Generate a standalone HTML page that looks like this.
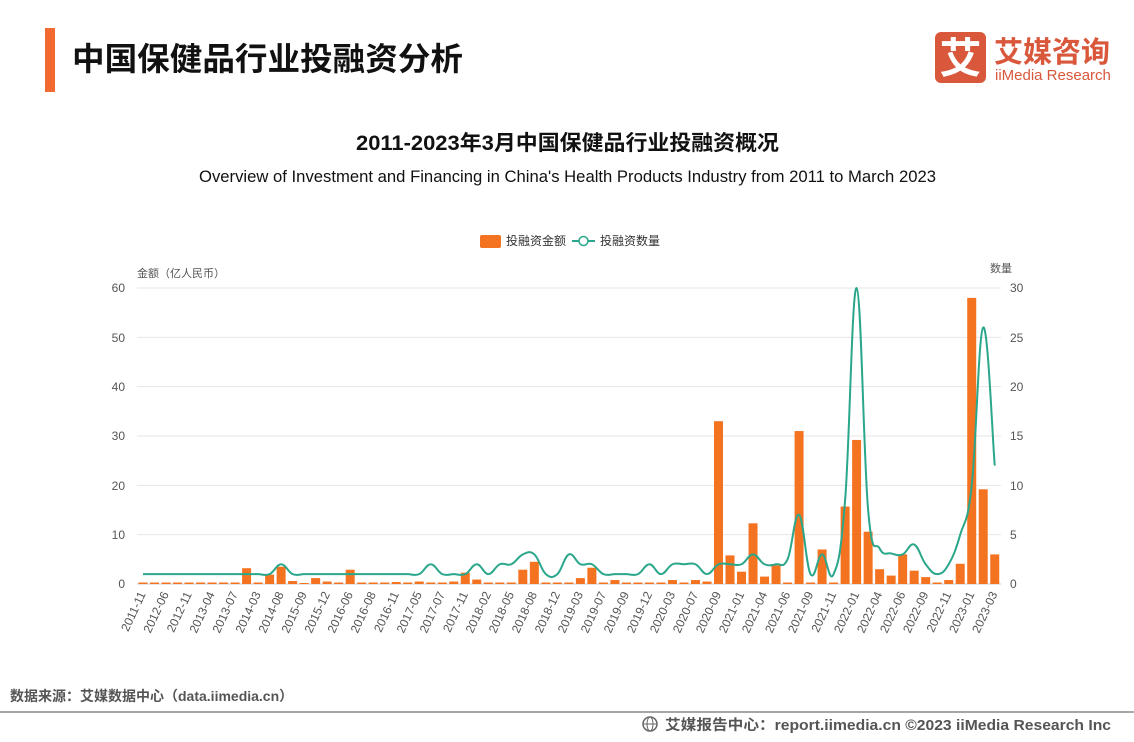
<!DOCTYPE html>
<html><head><meta charset="utf-8"><style>
body{margin:0;width:1134px;height:737px;background:#fff;overflow:hidden;font-family:"Liberation Sans","Noto Sans CJK SC",sans-serif;}
</style></head><body>
<svg id="s" width="1134" height="737" xmlns="http://www.w3.org/2000/svg" font-family="Liberation Sans, Noto Sans CJK SC, sans-serif">
<rect x="45" y="28" width="10" height="64" fill="#f26a32"/>
<text x="72" y="70" font-size="32" font-weight="bold" fill="#111" textLength="391" lengthAdjust="spacingAndGlyphs">中国保健品行业投融资分析</text>
<rect x="935" y="32" width="51" height="51" rx="6" fill="#d9573b"/>
<text x="960.5" y="73" font-size="42" font-weight="bold" fill="#fff" text-anchor="middle">艾</text>
<text x="994" y="62" font-size="29" font-weight="bold" fill="#d9573b">艾媒咨询</text>
<text x="995" y="80" font-size="15" fill="#d9573b">iiMedia Research</text>
<text x="356" y="150" font-size="21" font-weight="bold" fill="#111" textLength="423" lengthAdjust="spacingAndGlyphs">2011-2023年3月中国保健品行业投融资概况</text>
<text x="199" y="182" font-size="16.5" fill="#111" textLength="737" lengthAdjust="spacingAndGlyphs">Overview of Investment and Financing in China's Health Products Industry from 2011 to March 2023</text>
<rect x="480" y="235" width="21" height="13" rx="2" fill="#f47320"/>
<text x="506" y="245" font-size="12" fill="#333">投融资金额</text>
<line x1="572" y1="241" x2="595" y2="241" stroke="#2aa78a" stroke-width="2"/>
<circle cx="583.5" cy="241" r="4.5" fill="#fff" stroke="#2aa78a" stroke-width="1.5"/>
<text x="600" y="245" font-size="12" fill="#333">投融资数量</text>
<text x="137" y="277" font-size="11" fill="#555">金额（亿人民币）</text>
<text x="990" y="272" font-size="11" fill="#555">数量</text>
<g id="grid" stroke="#e6e6e6" stroke-width="1"></g>
<g font-size="12" fill="#555" text-anchor="end">
<text x="125" y="588">0</text><text x="125" y="539">10</text><text x="125" y="490">20</text><text x="125" y="440">30</text><text x="125" y="391">40</text><text x="125" y="342">50</text><text x="125" y="292">60</text>
</g>
<g font-size="12" fill="#555">
<text x="1010" y="588">0</text><text x="1010" y="539">5</text><text x="1010" y="490">10</text><text x="1010" y="440">15</text><text x="1010" y="391">20</text><text x="1010" y="342">25</text><text x="1010" y="292">30</text>
</g>
<g id="bars" fill="#f47320"></g>
<path id="ln" fill="none" stroke="#2aa78a" stroke-width="2"/>
<g id="xl" font-size="12" fill="#555" text-anchor="end">
<text>2011-11</text><text>2012-06</text><text>2012-11</text><text>2013-04</text><text>2013-07</text><text>2014-03</text><text>2014-08</text><text>2015-09</text><text>2015-12</text><text>2016-06</text><text>2016-08</text><text>2016-11</text><text>2017-05</text><text>2017-07</text><text>2017-11</text><text>2018-02</text><text>2018-05</text><text>2018-08</text><text>2018-12</text><text>2019-03</text><text>2019-07</text><text>2019-09</text><text>2019-12</text><text>2020-03</text><text>2020-07</text><text>2020-09</text><text>2021-01</text><text>2021-04</text><text>2021-06</text><text>2021-09</text><text>2021-11</text><text>2022-01</text><text>2022-04</text><text>2022-06</text><text>2022-09</text><text>2022-11</text><text>2023-01</text><text>2023-03</text>
</g>
<text x="10" y="701" font-size="14" font-weight="bold" fill="#555">数据来源：艾媒数据中心（data.iimedia.cn）</text>
<line x1="0" y1="712" x2="1134" y2="712" stroke="#888" stroke-width="1.5"/>
<circle cx="650" cy="724" r="7" fill="none" stroke="#666" stroke-width="1.5"/>
<ellipse cx="650" cy="724" rx="3" ry="7" fill="none" stroke="#666" stroke-width="1"/>
<line x1="643" y1="724" x2="657" y2="724" stroke="#666" stroke-width="1"/>
<text x="665" y="730" font-size="14.5" font-weight="bold" fill="#555" textLength="446" lengthAdjust="spacingAndGlyphs">艾媒报告中心：report.iimedia.cn ©2023  iiMedia Research  Inc</text>
</svg>
<script>
var v=[0.3,0.3,0.3,0.3,0.3,0.3,0.3,0.3,0.3,3.2,0.3,1.9,3.5,0.6,0.2,1.2,0.5,0.3,2.9,0.3,0.3,0.3,0.4,0.3,0.5,0.3,0.3,0.5,2.3,0.9,0.3,0.3,0.3,2.9,4.5,0.3,0.3,0.3,1.2,3.3,0.3,0.8,0.3,0.3,0.3,0.3,0.8,0.3,0.8,0.5,33,5.8,2.5,12.3,1.5,3.8,0.3,31,0.3,7,0.3,15.7,29.2,10.6,3,1.7,6,2.7,1.4,0.3,0.8,4.1,58,19.2,6];
var c=[1,1,1,1,1,1,1,1,1,1,1,1,2,1,1,1,1,1,1,1,1,1,1,1,1,2,1,1,1,2,1,2,2,3,3,1,1,3,2,2,1,1,1,1,2,1,2,2,2,1,2,2,2,3,2,2,2.5,7,1,3,1,8.5,30,7.5,3.6,3.1,3,4,2,1,2,5,10,26,12];
var NS="http://www.w3.org/2000/svg",y0=584,k=296/60;
function X(i){return 143+11.51*i;}
var g=document.getElementById('grid');
for(var j=0;j<=6;j++){var l=document.createElementNS(NS,'line');var y=y0-j*10*k;l.setAttribute('x1',137);l.setAttribute('x2',1001);l.setAttribute('y1',y);l.setAttribute('y2',y);if(j==0)l.setAttribute('stroke','#ccc');g.appendChild(l);}
var b=document.getElementById('bars');
v.forEach(function(d,i){var r=document.createElementNS(NS,'rect');var h=d*k;r.setAttribute('x',X(i)-4.5);r.setAttribute('width',9);r.setAttribute('y',y0-h);r.setAttribute('height',h);b.appendChild(r);});
var p=c.map(function(d,i){return [X(i),y0-d*296/30];});
var s='M'+p[0][0]+','+p[0][1];
for(var i=0;i<p.length-1;i++){var a=p[Math.max(i-1,0)],p1=p[i],p2=p[i+1],n=p[Math.min(i+2,p.length-1)],t=0.2;
s+=' C'+(p1[0]+(p2[0]-a[0])*t)+','+(p1[1]+(p2[1]-a[1])*t)+' '+(p2[0]-(n[0]-p1[0])*t)+','+(p2[1]-(n[1]-p1[1])*t)+' '+p2[0]+','+p2[1];}
document.getElementById('ln').setAttribute('d',s);
var tx=document.getElementById('xl').children;
for(var i=0;i<tx.length;i++){var x=X(i*2);tx[i].setAttribute('x',x+3);tx[i].setAttribute('y',594);tx[i].setAttribute('transform','rotate(-65 '+(x+3)+' 594)');}
</script>
</body></html>
